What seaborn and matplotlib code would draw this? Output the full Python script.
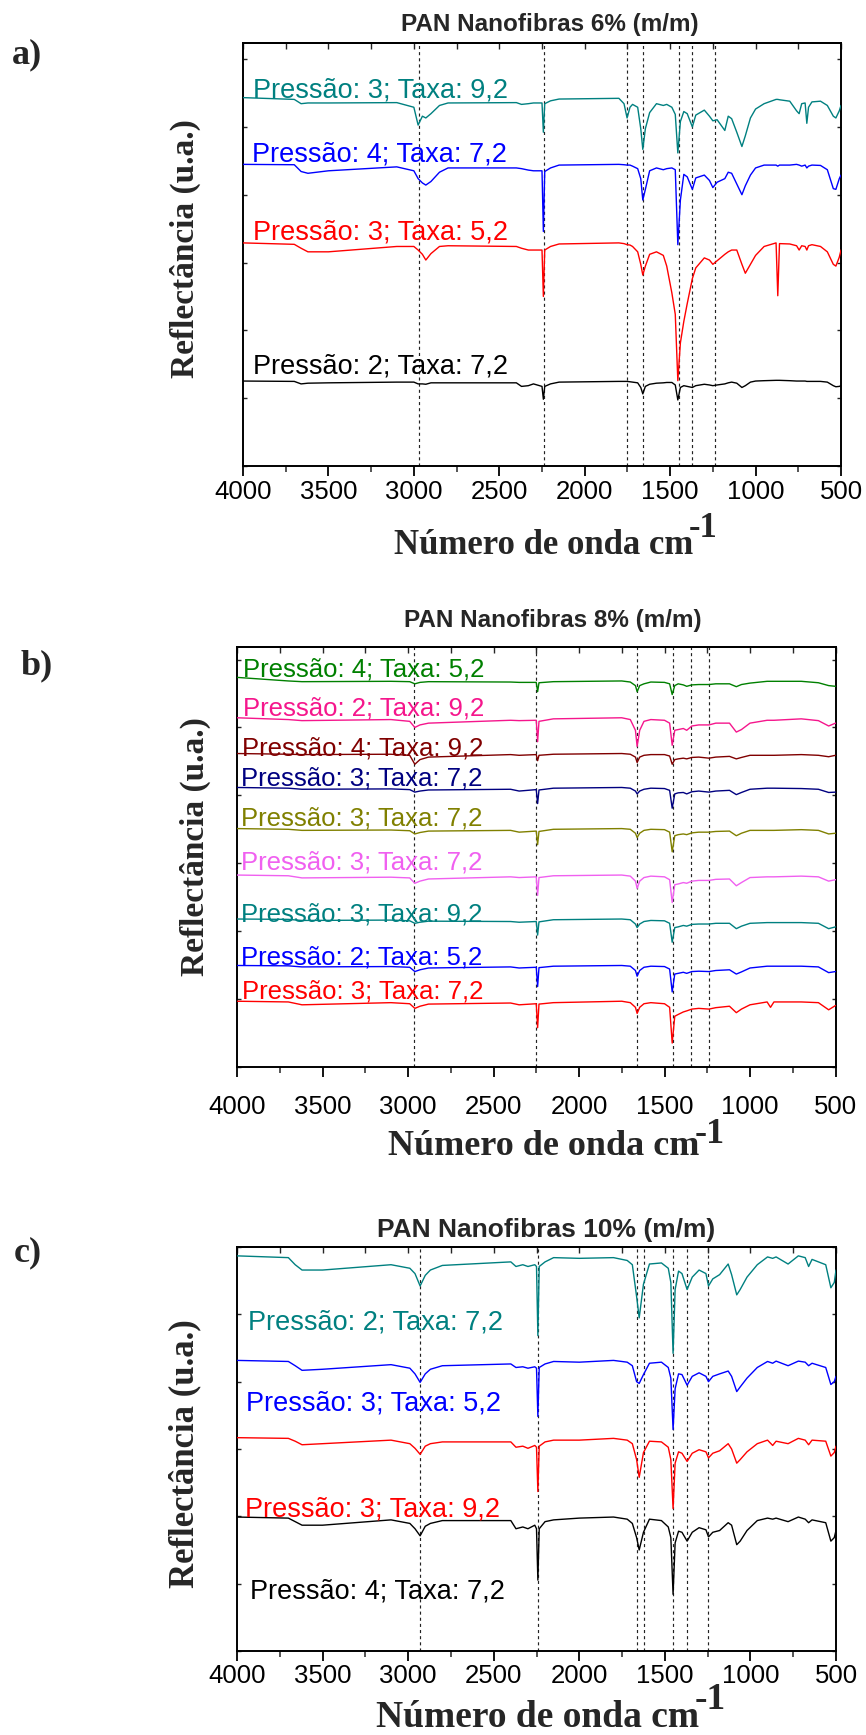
import numpy as np
import matplotlib
matplotlib.use("Agg")
import matplotlib.pyplot as plt
from matplotlib.ticker import MultipleLocator
import seaborn as sns

# ---------------------------------------------------------------- data
# Spectra were read off the reference as offset-stacked curves; values are
# the distance of the curve below the top edge of the frame (arbitrary units),
# converted to reflectance-like height with  height = FRAME - depth.

# ---- panel a : PAN 6 %
A_FRAME = 1305
A_TOP = 120
wn_a = [4000, 3700, 3660, 3620, 3500, 3100, 3000, 2975, 2950, 2930, 2900, 2850, 2800,
        2400, 2370, 2330, 2300, 2250, 2242, 2234, 2200, 2150, 1800, 1770, 1752, 1735,
        1720, 1690, 1672, 1660, 1645, 1620, 1580, 1540, 1520, 1490, 1470, 1455, 1440,
        1420, 1400, 1370, 1350, 1300, 1270, 1250, 1225, 1180, 1160, 1140, 1110, 1080,
        1060, 1030, 1000, 950, 880, 870, 860, 800, 760, 745, 730, 710, 700, 690, 670,
        620, 580, 545, 530, 510, 500]
a_teal = [273, 278, 290, 288, 288, 287, 300, 350, 325, 330, 318, 295, 288,
          287, 292, 290, 288, 288, 370, 290, 282, 277, 275, 290, 330, 300,
          292, 300, 360, 418, 360, 315, 290, 295, 292, 300, 320, 428, 340,
          312, 318, 355, 322, 308, 325, 338, 335, 365, 325, 332, 370, 410,
          380, 330, 305, 290, 278, 278, 279, 283, 310, 318, 290, 288, 345, 300, 285,
          283, 295, 325, 330, 310, 295]
a_blue = [460, 461, 480, 485, 478, 467, 478, 500, 512, 518, 508, 482, 470,
          470, 472, 476, 478, 478, 648, 480, 470, 462, 460, 461, 462, 462,
          465, 472, 500, 560, 530, 478, 470, 475, 472, 470, 475, 685, 560,
          488, 495, 530, 498, 490, 505, 525, 510, 500, 482, 485, 515, 545,
          520, 490, 470, 462, 462, 465, 462, 462, 460, 462, 465, 462, 470, 465, 462,
          463, 475, 528, 530, 500, 490]
a_red = [680, 684, 695, 705, 705, 690, 690, 700, 712, 728, 710, 690, 688,
         690, 695, 700, 700, 700, 830, 700, 690, 683, 680, 682, 685, 686,
         690, 705, 740, 770, 745, 712, 705, 715, 745, 820, 880, 1066, 960,
         900, 850, 780, 750, 722, 728, 740, 730, 712, 705, 700, 700, 740,
         765, 740, 715, 690, 680, 828, 682, 683, 688, 700, 688, 690, 700, 688, 685,
         690, 705, 740, 745, 720, 700]
a_black = [1067, 1068, 1075, 1073, 1072, 1070, 1070, 1075, 1075, 1076, 1072, 1072, 1072,
           1072, 1082, 1080, 1075, 1082, 1118, 1082, 1075, 1070, 1068, 1068, 1068, 1069,
           1070, 1072, 1085, 1103, 1082, 1076, 1073, 1072, 1071, 1071, 1078, 1120, 1085,
           1080, 1082, 1085, 1080, 1076, 1078, 1080, 1078, 1075, 1072, 1070, 1073, 1085,
           1080, 1070, 1067, 1066, 1065, 1065, 1065, 1066, 1067, 1067, 1067, 1067, 1068, 1068, 1068,
           1068, 1070, 1080, 1083, 1082, 1080]
a_series = [a_teal, a_blue, a_red, a_black]
a_labels = ["Pressão: 3; Taxa: 9,2", "Pressão: 4; Taxa: 7,2",
            "Pressão: 3; Taxa: 5,2", "Pressão: 2; Taxa: 7,2"]
a_colors = ["#008080", "#0000FF", "#FF0000", "#000000"]
a_label_depth = [252, 432, 652, 1027]
a_label_wn = [3940, 3945, 3940, 3940]
a_marks = [2970, 2240, 1750, 1660, 1450, 1370, 1240]

# ---- panel b : PAN 8 %
B_FRAME = 1362
B_TOP = 187
wn_b = [4000, 3700, 3620, 3100, 2990, 2960, 2930, 2880, 2400, 2350, 2250, 2242, 2234,
        2150, 1750, 1700, 1670, 1660, 1645, 1620, 1580, 1500, 1470, 1455, 1440, 1420,
        1390, 1370, 1340, 1300, 1240, 1200, 1120, 1080, 1050, 1000, 900, 880, 860, 700,
        600, 540, 500]
b_green = [272, 282, 284, 283, 284, 290, 286, 284, 285, 286, 286, 312, 287,
           284, 282, 285, 295, 312, 295, 290, 285, 286, 290, 320, 295, 290,
           293, 297, 293, 292, 292, 290, 290, 298, 292, 288, 283, 283, 283, 283,
           287, 295, 297]
b_pink = [385, 390, 393, 390, 395, 412, 405, 400, 392, 393, 392, 452, 395,
          388, 385, 390, 420, 465, 420, 395, 390, 392, 400, 462, 420, 418,
          415, 420, 408, 405, 405, 400, 400, 425, 418, 400, 392, 392, 392, 388,
          393, 408, 400]
b_darkred = [485, 487, 488, 487, 490, 515, 502, 495, 488, 490, 488, 505, 490,
             487, 485, 487, 495, 510, 495, 490, 488, 488, 492, 515, 502, 500,
             498, 500, 496, 495, 498, 495, 493, 500, 496, 490, 490, 490, 490, 488,
             490, 494, 490]
b_navy = [580, 582, 585, 584, 586, 593, 590, 587, 585, 590, 586, 625, 587,
          582, 580, 582, 590, 598, 590, 585, 582, 583, 588, 638, 598, 595,
          594, 598, 592, 590, 593, 590, 588, 600, 594, 585, 582, 582, 582, 583,
          585, 594, 593]
b_olive = [695, 697, 700, 699, 701, 710, 706, 702, 700, 705, 702, 740, 703,
           697, 695, 697, 708, 720, 708, 700, 697, 698, 705, 760, 715, 712,
           710, 712, 707, 705, 705, 703, 702, 715, 708, 700, 700, 700, 700, 698,
           700, 710, 708]
b_violet = [825, 827, 833, 831, 833, 848, 842, 836, 830, 832, 830, 882, 832,
            827, 825, 828, 842, 862, 842, 832, 828, 830, 838, 902, 852, 850,
            846, 848, 842, 840, 840, 837, 836, 855, 846, 832, 830, 830, 830, 828,
            830, 842, 838]
b_teal = [948, 949, 952, 951, 953, 960, 957, 954, 955, 957, 955, 993, 956,
          950, 948, 950, 962, 972, 962, 955, 952, 953, 960, 1013, 972, 970,
          966, 968, 963, 962, 962, 960, 960, 975, 968, 960, 958, 958, 958, 958,
          960, 975, 970]
b_blue = [1078, 1079, 1082, 1081, 1083, 1095, 1090, 1085, 1082, 1085, 1083, 1137, 1084,
          1080, 1078, 1080, 1092, 1108, 1092, 1083, 1080, 1081, 1088, 1152, 1102, 1100,
          1097, 1100, 1095, 1094, 1095, 1092, 1090, 1102, 1096, 1085, 1080, 1080, 1080, 1080,
          1082, 1098, 1095]
b_red = [1178, 1180, 1188, 1182, 1185, 1198, 1192, 1186, 1183, 1188, 1185, 1252, 1186,
         1182, 1178, 1182, 1195, 1212, 1195, 1185, 1182, 1185, 1195, 1295, 1220, 1215,
         1208, 1205, 1200, 1198, 1200, 1196, 1192, 1210, 1200, 1188, 1180, 1195, 1180, 1180,
         1182, 1202, 1190]
b_series = [b_green, b_pink, b_darkred, b_navy, b_olive, b_violet, b_teal, b_blue, b_red]
b_labels = ["Pressão: 4; Taxa: 5,2", "Pressão: 2; Taxa: 9,2", "Pressão: 4; Taxa: 9,2",
            "Pressão: 3; Taxa: 7,2", "Pressão: 3; Taxa: 7,2", "Pressão: 3; Taxa: 7,2",
            "Pressão: 3; Taxa: 9,2", "Pressão: 2; Taxa: 5,2", "Pressão: 3; Taxa: 7,2"]
b_colors = ["#008000", "#F5168C", "#800000", "#000080", "#808000", "#F060F0",
            "#008080", "#0000FF", "#FF0000"]
b_label_depth = [250, 360, 470, 555, 668, 790, 935, 1055, 1150]
b_label_wn = [3965, 3965, 3970, 3975, 3975, 3975, 3975, 3975, 3970]
b_marks = [2965, 2250, 1660, 1450, 1345, 1240]

# ---- panel c : PAN 10 %
C_FRAME = 1330
C_TOP = 190
wn_c = [4000, 3700, 3660, 3620, 3500, 3100, 2990, 2960, 2930, 2900, 2870, 2800, 2400,
        2370, 2330, 2300, 2260, 2250, 2242, 2234, 2200, 2150, 2000, 1800, 1720, 1690,
        1665, 1650, 1625, 1590, 1520, 1480, 1465, 1452, 1440, 1420, 1400, 1370, 1340,
        1300, 1260, 1245, 1220, 1180, 1130, 1110, 1080, 1060, 1020, 960, 900, 870, 850,
        780, 720, 680, 660, 640, 560, 530, 510, 500]
c_teal = [215, 220, 240, 255, 255, 240, 250, 265, 300, 270, 255, 242, 232,
          245, 240, 245, 240, 245, 440, 245, 232, 220, 222, 220, 228, 240,
          330, 390, 295, 238, 235, 250, 290, 490, 310, 258, 265, 310, 275,
          255, 265, 300, 280, 268, 238, 268, 325, 310, 275, 240, 218, 222, 218,
          238, 215, 220, 245, 225, 240, 305, 290, 255]
c_blue = [510, 513, 525, 538, 535, 522, 532, 548, 572, 548, 535, 525, 520,
          530, 528, 532, 528, 532, 668, 530, 520, 513, 515, 510, 515, 525,
          570, 575, 550, 518, 515, 530, 560, 705, 590, 548, 550, 580, 555,
          545, 555, 570, 555, 548, 540, 555, 598, 585, 560, 530, 513, 518, 512,
          525, 512, 515, 525, 518, 530, 578, 570, 555]
c_red = [728, 730, 738, 748, 745, 735, 745, 758, 775, 752, 745, 740, 740,
         755, 752, 758, 750, 755, 880, 752, 740, 735, 735, 730, 735, 745,
         790, 840, 770, 738, 740, 755, 790, 928, 800, 768, 772, 795, 772,
         762, 768, 785, 772, 765, 745, 760, 800, 790, 768, 745, 735, 750, 738,
         745, 730, 735, 748, 735, 738, 780, 770, 752]
c_black = [952, 955, 965, 975, 975, 960, 970, 985, 1005, 978, 970, 962, 962,
           985, 980, 985, 975, 985, 1130, 985, 965, 960, 955, 952, 958, 970,
           1010, 1045, 995, 958, 962, 980, 1010, 1170, 1025, 992, 995, 1020, 995,
           982, 988, 1008, 995, 990, 968, 975, 1030, 1020, 990, 962, 955, 958, 955,
           965, 952, 958, 968, 960, 968, 1020, 1010, 990]
c_series = [c_teal, c_blue, c_red, c_black]
c_labels = ["Pressão: 2; Taxa: 7,2", "Pressão: 3; Taxa: 5,2",
            "Pressão: 3; Taxa: 9,2", "Pressão: 4; Taxa: 7,2"]
c_colors = ["#008080", "#0000FF", "#FF0000", "#000000"]
c_label_depth = [403, 633, 930, 1162]
c_label_wn = [3935, 3945, 3955, 3925]
c_marks = [2930, 2240, 1665, 1620, 1450, 1370, 1245]

titles = ["PAN Nanofibras 6% (m/m)", "PAN Nanofibras 8% (m/m)", "PAN Nanofibras 10% (m/m)"]
letters = ["a)", "b)", "c)"]
xtick_values = [4000, 3500, 3000, 2500, 2000, 1500, 1000, 500]
ylabel_text = "Reflectância (u.a.)"
xlabel_text = "Número de onda cm"
xlabel_sup = "-1"

# ---------------------------------------------------------------- style
sns.set_theme(style="ticks")
plt.rcParams["font.family"] = ["Liberation Sans", "DejaVu Sans"]
plt.rcParams["axes.linewidth"] = 1.4
plt.rcParams["axes.edgecolor"] = "black"

W, H = 866, 1735
fig = plt.figure(figsize=(W / 100, H / 100), dpi=100)
SERIF = ["Liberation Serif", "DejaVu Serif"]


def fx(px):
    return px / W


def fy(px):
    return 1 - px / H


panels = [
    dict(box=(243, 841, 43, 466), frame=A_FRAME, top=A_TOP, wn=wn_a, series=a_series,
         labels=a_labels, colors=a_colors, ldepth=a_label_depth, lwn=a_label_wn,
         marks=a_marks, lsize=19.5, pad=3, title_xy=(550, 24), title_size=17.5,
         letter_xy=(27, 55), ylab_xy=(185, 249), xlab_xy=(394, 545), xlab_size=25,
         ylab_size=24, sup_y=0.5),
    dict(box=(237, 835.5, 647, 1067), frame=B_FRAME, top=B_TOP, wn=wn_b, series=b_series,
         labels=b_labels, colors=b_colors, ldepth=b_label_depth, lwn=b_label_wn,
         marks=b_marks, lsize=18.5, pad=13, title_xy=(553, 620), title_size=17.5,
         letter_xy=(37, 666), ylab_xy=(195, 847), xlab_xy=(388, 1146), xlab_size=26,
         ylab_size=24, sup_y=0.36),
    dict(box=(237, 836, 1247, 1651), frame=C_FRAME, top=C_TOP, wn=wn_c, series=c_series,
         labels=c_labels, colors=c_colors, ldepth=c_label_depth, lwn=c_label_wn,
         marks=c_marks, lsize=19.5, pad=2, title_xy=(546, 1230), title_size=19,
         letter_xy=(28, 1253), ylab_xy=(185, 1454), xlab_xy=(376, 1717), xlab_size=27,
         ylab_size=25, sup_y=0.5),
]

for i, p in enumerate(panels):
    l, r, t, b = p["box"]
    ax = fig.add_axes([fx(l), fy(b), (r - l) / W, (b - t) / H])
    frame = p["frame"]
    ymax = frame - p["top"]

    for mk in p["marks"]:
        ax.axvline(mk, color="#222222", lw=0.85, ls=(0, (2.6, 2.6)), zorder=1)

    for vals, col in zip(p["series"], p["colors"]):
        height = frame - np.asarray(vals, dtype=float)
        sns.lineplot(x=p["wn"], y=height, ax=ax, color=col, linewidth=1.0,
                     estimator=None, sort=False, legend=False, zorder=3)

    for lab, col, d, w in zip(p["labels"], p["colors"], p["ldepth"], p["lwn"]):
        ax.text(w, frame - d, lab, color=col, fontsize=p["lsize"], ha="left",
                va="center", zorder=4)

    ax.set_xlim(4000, 500)
    ax.set_ylim(0, ymax)
    ax.set_xlabel("")
    ax.set_ylabel("")
    ax.set_xticks(xtick_values)
    ax.set_xticklabels([str(v) for v in xtick_values])
    ax.xaxis.set_minor_locator(MultipleLocator(250))
    ax.yaxis.set_major_locator(MultipleLocator(190))
    ax.tick_params(axis="x", which="major", direction="out", length=7, width=1.3,
                   labelsize=18.5, pad=p["pad"], colors="black")
    ax.tick_params(axis="x", which="minor", direction="out", length=4, width=1.1)
    ax.tick_params(axis="y", which="both", left=True, right=True, direction="in",
                   length=3, width=1.0, labelleft=False)
    sec = ax.secondary_xaxis("top")
    sec.xaxis.set_major_locator(MultipleLocator(250))
    sec.tick_params(axis="x", which="both", direction="in", length=4, width=1.0,
                    labeltop=False)
    sec.spines["top"].set_linewidth(1.4)
    for s in ax.spines.values():
        s.set_visible(True)
        s.set_color("black")
        s.set_linewidth(1.4)

    tx, ty = p["title_xy"]
    fig.text(fx(tx), fy(ty), titles[i], ha="center", va="center",
             fontsize=p["title_size"], fontweight="bold")
    lx, ly = p["letter_xy"]
    fig.text(fx(lx), fy(ly), letters[i], ha="center", va="center", fontsize=26,
             fontweight="bold", family=SERIF)
    yx, yy = p["ylab_xy"]
    fig.text(fx(yx), fy(yy), ylabel_text, ha="center", va="center", rotation=90,
             fontsize=p["ylab_size"], fontweight="bold", family=SERIF)
    xx, xy = p["xlab_xy"]
    xl = fig.text(fx(xx), fy(xy), xlabel_text, ha="left", va="center",
                  fontsize=p["xlab_size"], fontweight="bold", family=SERIF)
    ax.annotate(xlabel_sup, xy=(0.985, p["sup_y"]), xycoords=xl, ha="left",
                va="bottom", fontsize=p["xlab_size"], fontweight="bold",
                family=SERIF, annotation_clip=False)

fig.savefig("out.png", dpi=100)
